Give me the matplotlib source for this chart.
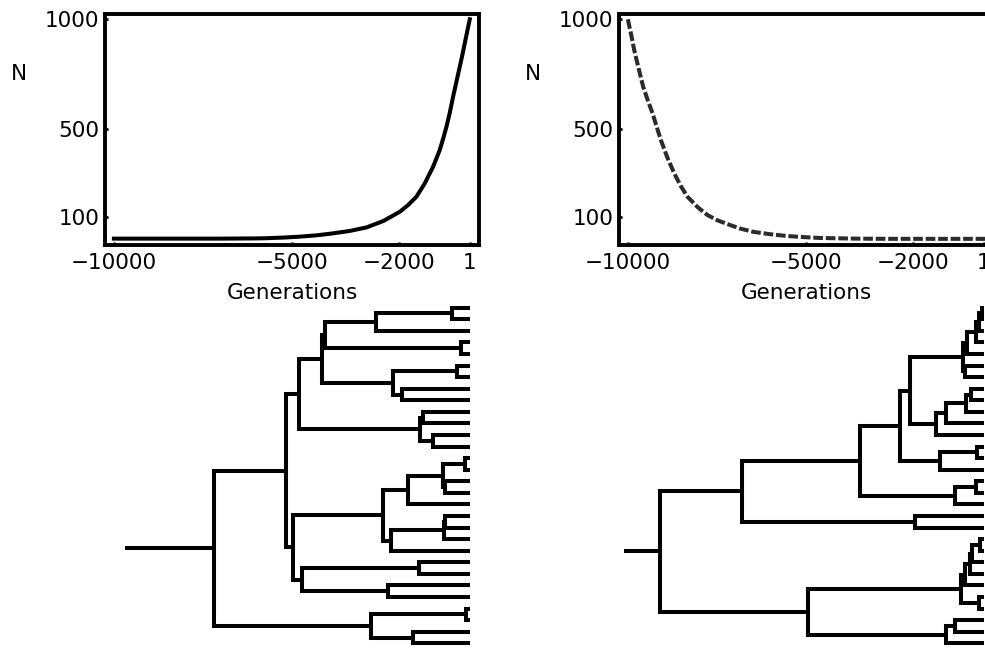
import matplotlib.pyplot as plt

plt.rcParams['font.family'] = ['DejaVu Sans']
plt.rcParams['font.size'] = 15.5

# population size through time
gen_growth = [-10000, -9000, -8000, -7000, -6000, -5700, -5200, -4775, -4300, -3840,
              -3370, -2900, -2430, -1966, -1730, -1500, -1264, -1030, -940, -843,
              -750, -655, -560, -468, -375, -281, -210, -140, -70, 1]
n_growth = [2, 2, 2, 2, 3, 4, 7, 11, 17, 26,
            37, 53, 82, 124, 155, 192, 253, 329, 365, 405,
            455, 510, 575, 647, 715, 783, 835, 890, 945, 999]

gen_decline = [-10000, -9950, -9896, -9830, -9756, -9660, -9570, -9440, -9306, -9190,
               -9073, -8890, -8699, -8510, -8324, -8040, -7763, -7480, -7201, -6850,
               -6480, -6000, -5542, -5070, -4607, -3600, -2700, -1500, 1, 300]
n_decline = [999, 960, 920, 865, 814, 750, 692, 630, 571, 510,
             450, 370, 299, 240, 192, 145, 109, 85, 68, 48,
             33, 22, 14, 9, 5, 2, 1, 1, 1, 1]

xticks = [-10000, -5000, -2000, 1]
xtick_labels = ['\u221210000', '\u22125000', '\u22122000', '1']
yticks = [100, 500, 1000]

# genealogies: (node time, child, child), None = sampled leaf at time 0
L = None
tree_growth = (-7190,
               (-5170,
                (-4795,
                 (-4166,
                  (-4073,
                   (-2621, (-486, L, L), L),
                   (-233, L, L)),
                  (-2163, (-346, L, L), (-1890, L, L))),
                 (-1404, (-1312, L, L), (-1031, L, L))),
                (-4963,
                 (-2435,
                  (-1733, (-750, (-140, L, L), (-702, L, L)), L),
                  (-2199, (-730, (-700, L, L), L), L)),
                 (-4711, (-1424, L, L), (-2295, L, L)))),
               (-2761, (-93, L, L), (-1593, L, L)))
stem_growth = -9690

tree_decline = (-9100,
                (-6806,
                 (-3483,
                  (-2360,
                   (-2079,
                    (-581,
                     (-469, (-225, (-140, (-56, L, L), L), L), L),
                     (-534, L, L)),
                    (-1329, (-1048, (-486, (-346, L, L), L), L), L)),
                   (-1236, (-197, L, L), L)),
                  (-815, (-205, L, L), L)),
                 (-1938, L, L)),
                (-4935,
                 (-626, (-514, (-393, (-337, (-112, L, L), L), L), L), (-140, L, L)),
                 (-1048, (-815, L, L), L)))
stem_decline = -10110

W, H = 985, 649
fig = plt.figure(figsize=(W / 100, H / 100), dpi=100)


def px_axes(l, t, r, b):
    return fig.add_axes([l / W, 1 - b / H, (r - l) / W, (b - t) / H])


def draw_tree(ax, node, leaves):
    # returns (time, y) of node, draws the elbows to its children
    if node is None:
        leaves.append(len(leaves) + 1)
        return 0, leaves[-1]
    t = node[0]
    kids = [draw_tree(ax, c, leaves) for c in node[1:]]
    y = sum(k[1] for k in kids) / len(kids)
    for tc, yc in kids:
        ax.plot([t, t, tc], [y, yc, yc], color='black', lw=2.9,
                solid_joinstyle='miter', solid_capstyle='butt')
    return t, y


panels = [(105, gen_growth, n_growth, '-', tree_growth, stem_growth),
          (619, gen_decline, n_decline, '--', tree_decline, stem_decline)]

for left, gens, ns, style, tree, stem in panels:
    ax = px_axes(left, 14, left + 374, 245)
    if style == '-':
        ax.plot(gens, ns, color='black', lw=2.9, solid_joinstyle='round')
    else:
        ax.plot(gens, ns, color='#2b2b2b', lw=2.9, ls='--', dashes=(2.4, 0.7))
    ax.set_xlim(-10250, 260)
    ax.set_ylim(-27, 1023)
    ax.set_xticks(xticks)
    ax.set_xticklabels(xtick_labels)
    ax.set_yticks(yticks)
    ax.tick_params(direction='in', length=2, width=2, pad=4)
    ax.tick_params(axis='x', pad=6)
    for s in ax.spines.values():
        s.set_linewidth(2.8)
    ax.set_xlabel('Generations', labelpad=7)
    ax.set_ylabel('N', rotation=0, va='center')
    ax.yaxis.set_label_coords(-0.23, 0.74)

    tx = px_axes(left, 296, left + 374, 649)
    tx.set_xlim(-10250, 260)
    tx.set_ylim(30.49, -0.011)
    tx.axis('off')
    rt, ry = draw_tree(tx, tree, [])
    tx.plot([stem, rt], [ry, ry], color='black', lw=2.9, solid_capstyle='butt')

plt.savefig('out.png', dpi=100)
